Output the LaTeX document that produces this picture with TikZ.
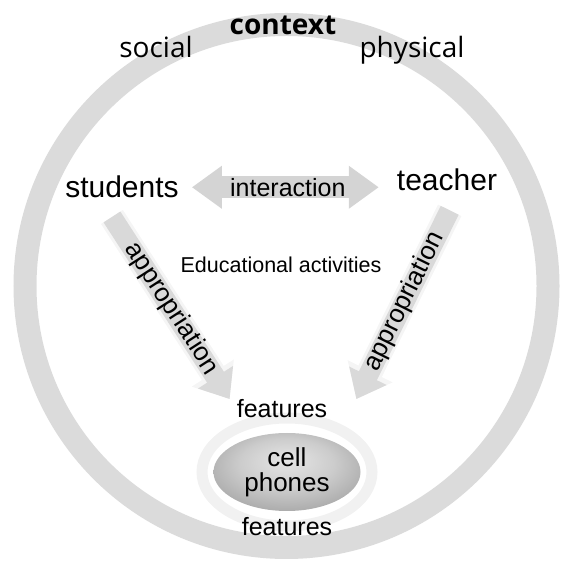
\documentclass[tikz,border=0pt]{standalone}
\usepackage{fontspec}
\setmainfont{Liberation Sans}
\newfontfamily\ctxfont{Open Sans}
\usetikzlibrary{arrows.meta,positioning,shapes.geometric}
\definecolor{ringgray}{RGB}{219,219,219}
\definecolor{arrgray}{RGB}{212,212,212}
\definecolor{halogray}{RGB}{241,241,241}
\pgfdeclareradialshading{phoneshade}{\pgfpoint{0bp}{8bp}}{%
  color(0bp)=(white!90!black); color(16bp)=(white!80!black);
  color(32bp)=(white!64!black); color(50bp)=(white!48!black)}

\begin{document}
\begin{tikzpicture}[x=1pt, y=1pt,
  ctx/.style={inner sep=0pt, anchor=base, font=\ctxfont\fontsize{28}{28}\selectfont},
  actor/.style={inner sep=0pt, anchor=base, font=\fontsize{30}{30}\selectfont},
  feat/.style={inner sep=0pt, font=\fontsize{25}{25}\selectfont},
  phone/.style={ellipse, minimum width=147pt, minimum height=78pt, inner sep=0pt,
                shade, shading=phoneshade, align=center,
                font=\fontsize{26}{25}\selectfont},
  inter/.style={arrgray, line width=22pt,
                {Triangle[length=30pt,width=41pt]}-{Triangle[length=30pt,width=41pt]}},
  appr/.style={draw=gray!30, line width=20pt, -{Triangle[length=26pt,width=40pt]},
               preaction={draw=gray!8, line width=26pt, -{Triangle[length=31pt,width=48pt]}}},
  albl/.style={inner sep=0pt, text=black, font=\fontsize{26}{26}\selectfont}
]
\useasboundingbox (0,0) rectangle (561,578);

% context ring
\draw[ringgray, line width=23pt] (286.5,292) circle (261.5);
\node[ctx, font=\ctxfont\bfseries\fontsize{28}{28}\selectfont] (context) at (283,543) {context};
\node[ctx] (social) at (156,520) {social};
\node[ctx] (physical) at (412,520) {physical};

% cell phones
\node[phone] (phone) at (287,106) {cell\\phones};
\draw[halogray, line width=11pt] (phone.center) ellipse [x radius=85, y radius=54];
\node[feat, above=15pt of phone, xshift=-5pt] (featTop) {features};
\node[feat, below=6pt of phone] (featBot) {features};

% actors
\node[actor] (students) at (122,380) {students};
\node[actor] (teacher) at (447,387) {teacher};
\node[inner sep=0pt, anchor=base, font=\fontsize{21.5}{21.5}\selectfont] (activities) at (281,305)
  {Educational activities};

\draw[inter, shorten <=13pt, shorten >=18pt] (students.east) -- (students.east -| teacher.west)
  node[midway, inner sep=0pt, text=black, font=\fontsize{25}{25}\selectfont] (interLbl) {interaction};

\draw[appr, shorten <=22pt] ([xshift=-22pt]students.south) -- ([xshift=-7pt]featTop.north west)
  node[pos=.55, sloped, albl] {appropriation};
\draw[appr, shorten <=21pt] ([xshift=12pt]teacher.south) -- ([xshift=29pt]featTop.north east)
  node[pos=.53, sloped, albl] {appropriation};
\end{tikzpicture}
\end{document}
